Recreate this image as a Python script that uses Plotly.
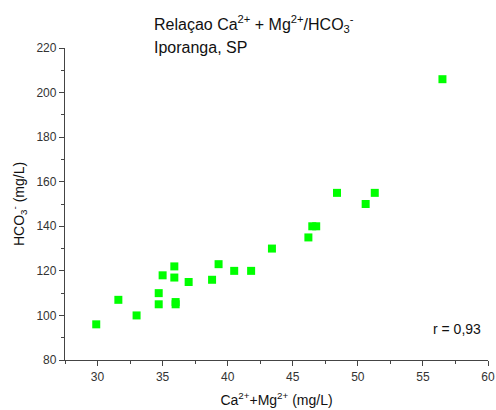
import plotly.graph_objects as go

# Ca2+ + Mg2+ (mg/L) vs HCO3- (mg/L), Iporanga SP
ca_mg = [29.9, 31.6, 33.0, 34.7, 34.7, 35.0, 35.9, 35.9, 36.0, 36.0, 37.0,
         38.8, 39.3, 40.5, 41.8, 43.4, 46.2, 46.5, 46.8, 48.4, 50.6, 51.3, 56.5]
hco3 = [96, 107, 100, 110, 105, 118, 122, 117, 106, 105, 115,
        116, 123, 120, 120, 130, 135, 140, 140, 155, 150, 155, 206]
title_lines = ["Relaçao Ca<sup>2+</sup> + Mg<sup>2+</sup>/HCO<sub>3</sub><sup>-</sup>",
               "Iporanga, SP"]
r_text = "r = 0,93"

fnt = "Liberation Sans, Arial, sans-serif"
axcol = "#444444"

fig = go.Figure()
fig.add_trace(go.Scatter(x=ca_mg, y=hco3, mode="markers",
                         marker=dict(symbol="square", size=8, color="#00ff00",
                                     line=dict(width=0)),
                         showlegend=False))

for txt, yy in zip(title_lines, [1.077, 1.003]):
    fig.add_annotation(text=txt, x=(152 - 65) / 423, y=yy, xref="paper", yref="paper",
                       xanchor="left", yanchor="middle", showarrow=False,
                       font=dict(family=fnt, size=16, color="#111111"))

fig.add_annotation(text=r_text, x=0.988, y=0.099, xref="paper", yref="paper",
                   xanchor="right", yanchor="middle", showarrow=False,
                   font=dict(family=fnt, size=14, color="#111111"))

fig.update_layout(
    width=496, height=410,
    margin=dict(l=65, r=8, t=48, b=50),
    paper_bgcolor="white", plot_bgcolor="white",
    font=dict(family=fnt, color="#222222"),
    xaxis=dict(range=[27.5, 60], dtick=5, tick0=0, showgrid=False, zeroline=False,
               automargin=False,
               showline=True, linecolor=axcol, linewidth=1.3,
               ticks="outside", ticklen=5, tickcolor=axcol,
               minor=dict(dtick=2.5, ticks="outside", ticklen=3, tickcolor=axcol),
               tickfont=dict(size=12, color="#333333"),
               title=dict(text="Ca<sup>2+</sup>+Mg<sup>2+</sup> (mg/L)",
                          font=dict(size=14, color="#111111"), standoff=12)),
    yaxis=dict(range=[80, 220], dtick=20, showgrid=False, zeroline=False,
               automargin=False,
               showline=True, linecolor=axcol, linewidth=1.3,
               ticks="outside", ticklen=5, tickcolor=axcol,
               minor=dict(dtick=10, ticks="outside", ticklen=3, tickcolor=axcol),
               tickfont=dict(size=12, color="#333333"),
               title=dict(text="HCO<sub>3</sub><sup>-</sup> (mg/L)",
                          font=dict(size=14, color="#111111"), standoff=8)),
)

# drop the default 8px page margin so the figure fills the window
fig.write_html("out.html", config={"displayModeBar": False},
               post_script="document.body.style.margin='0';")
